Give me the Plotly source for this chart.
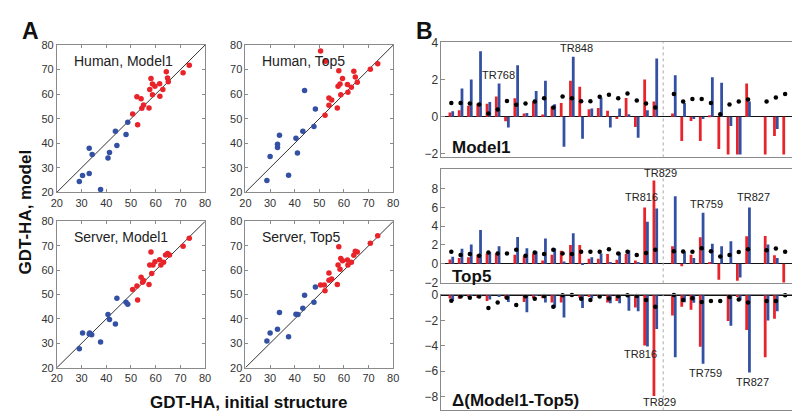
import plotly.graph_objects as go

# ---------------- Panel A data (GDT-HA) ----------------
hm1_blue_x = [29.1, 30.4, 33.1, 33.1, 34.3, 37.7, 40.7, 41.3, 43.7, 44.3, 48.0, 48.7]
hm1_blue_y = [24.4, 26.8, 27.7, 38.0, 35.4, 21.1, 34.0, 36.2, 44.9, 39.1, 43.6, 48.5]
hm1_red_x = [50.7, 52.4, 52.7, 54.1, 54.4, 55.1, 57.3, 57.6, 58.1, 58.7, 58.7, 59.7, 61.6, 61.7, 62.9, 64.3, 64.8, 65.1, 71.1, 73.6]
hm1_red_y = [51.9, 58.9, 47.5, 58.1, 54.2, 55.6, 54.4, 61.9, 66.4, 64.1, 59.7, 63.2, 64.2, 59.1, 61.9, 69.1, 66.6, 65.0, 68.7, 71.8]

ht5_blue_x = [28.7, 30.0, 33.0, 33.0, 33.8, 37.5, 40.5, 41.1, 43.3, 44.0, 47.8, 48.4]
ht5_blue_y = [24.8, 34.6, 39.6, 38.3, 43.2, 27.0, 42.0, 36.0, 44.9, 61.5, 46.8, 53.9]
ht5_red_x = [50.5, 52.3, 52.5, 53.9, 53.9, 55.0, 57.3, 57.6, 57.9, 58.4, 58.7, 59.4, 61.4, 61.6, 63.0, 64.0, 64.6, 65.4, 70.7, 73.7]
ht5_red_y = [77.6, 51.4, 73.4, 58.4, 55.5, 57.6, 54.4, 63.2, 69.5, 64.1, 59.7, 66.4, 63.9, 60.8, 62.8, 69.3, 67.0, 64.8, 70.1, 72.4]

sm1_blue_x = [29.1, 30.4, 33.1, 33.3, 34.1, 37.7, 40.7, 41.3, 43.7, 44.3, 48.0, 48.7]
sm1_blue_y = [27.8, 34.2, 33.8, 34.2, 33.5, 30.5, 41.8, 39.8, 37.9, 48.5, 46.8, 46.0]
sm1_red_x = [50.7, 52.4, 52.7, 54.1, 54.7, 55.1, 57.3, 57.6, 58.1, 58.4, 58.9, 59.7, 61.6, 62.1, 63.2, 64.0, 64.8, 65.6, 71.1, 73.6]
sm1_red_y = [52.1, 53.5, 47.8, 57.1, 55.0, 55.8, 54.1, 62.1, 67.4, 58.6, 62.1, 63.4, 64.3, 62.1, 63.2, 66.2, 66.8, 66.2, 69.8, 73.1]

st5_blue_x = [28.7, 30.0, 33.0, 33.8, 37.5, 40.5, 41.3, 43.3, 44.0, 47.8, 48.4]
st5_blue_y = [30.9, 34.2, 35.8, 42.6, 32.7, 41.9, 41.8, 44.4, 49.7, 46.8, 53.1]
st5_red_x = [50.5, 52.0, 52.3, 53.9, 53.9, 55.0, 57.3, 57.6, 57.9, 58.4, 58.7, 59.4, 61.4, 61.6, 63.0, 64.0, 64.6, 65.4, 70.7, 73.7]
st5_red_y = [53.9, 53.9, 51.5, 58.8, 55.9, 56.4, 54.1, 62.1, 69.6, 60.4, 64.8, 63.9, 64.2, 62.1, 63.2, 66.1, 67.8, 67.4, 71.0, 74.1]

a_ticks = [20, 30, 40, 50, 60, 70, 80]
a_titles = ["Human, Model1", "Human, Top5", "Server, Model1", "Server, Top5"]

# ---------------- Panel B data ----------------
slots = list(range(37))
N = None
m1_red = [0.23, 0.35, 0.6, 0.72, 0.7, 1.1, -0.25, 1.0, 0.18, 0.82, 0.12, 0.56, 0.75, 1.95, 1.63, 0.4, 0.47, 0.33, -0.12, 1.02, -0.56, 2.02, 0.82, N,
          0.18, -1.32, -0.23, -1.32, 0.07, -1.75, -2.05, -2.05, 1.8, N, -2.05, -1.05, -2.05]
m1_blue = [0.3, 1.53, 2.02, 3.56, 0.8, 1.8, -0.58, 2.8, 0.2, 1.4, 1.95, 0.68, -1.63, 3.25, -1.2, 0.44, 1.05, -0.58, 0.44, 0.14, -1.14, 0.35, 3.16, N,
           2.25, 0.75, -0.12, -0.12, 2.14, 1.84, -0.5, -2.05, 0.82, N, 0.0, -0.67, 0.0]
m1_dot = [0.75, 0.75, 0.72, 0.67, 0.18, 0.39, 0.86, 0.65, 0.72, 0.82, 1.0, 0.5, 1.1, 1.0, 0.84, 0.84, 1.09, 1.19, 1.0, 1.26, 0.88, 0.72, 0.5, N,
          1.23, 0.82, 0.96, 0.96, 0.75, 0.14, 0.67, 0.82, 0.93, N, 0.82, 1.04, 1.23]

t5_red = [0.45, 0.62, 0.69, 0.96, 1.1, 1.1, 0.0, 0.96, 0.8, 1.1, 0.34, 0.96, 1.37, 2.0, 2.0, 0.52, 0.52, 1.03, 0.41, 1.03, 0.34, 6.0, 8.87, N,
          1.86, -0.27, 0.96, 2.82, 0.07, -1.72, 0.0, -1.82, 2.92, N, 2.96, 0.9, -2.0]
t5_blue = [0.75, 1.6, 2.06, 3.6, 1.2, 1.86, 0.0, 2.85, 1.65, 1.3, 2.68, 1.65, 0.24, 3.26, -0.1, 0.69, 1.1, 0.17, 1.2, 1.44, 0.14, 4.47, 5.9, N,
           7.2, 1.3, 0.62, 5.43, 2.13, 1.86, 2.4, -1.48, 6.0, N, 2.06, 0.62, 0.0]
t5_dot = [1.27, 0.93, 1.03, 0.86, 1.2, 1.1, 1.1, 1.5, 0.86, 1.2, 1.03, 1.5, 1.1, 1.03, 1.27, 1.27, 1.27, 1.55, 1.1, 1.27, 0.93, 1.13, 1.5, N,
          1.34, 1.3, 1.27, 1.65, 1.34, 0.76, 0.93, 1.24, 1.55, N, 1.44, 1.62, 1.27]

d_red = [-0.25, -0.27, -0.09, -0.21, -0.46, 0.0, -0.25, 0.0, -0.53, -0.23, -0.23, -0.58, -0.58, 0.0, -0.2, -0.12, -0.05, -0.58, -0.46, 0.0, -0.96, -3.96, -7.95, N,
         -1.6, -0.9, -1.14, -4.06, 0.0, 0.0, -2.03, -0.13, -2.74, N, -4.9, -1.85, 0.0]
d_blue = [-0.45, -0.07, -0.04, -0.04, -0.33, -0.06, -0.53, 0.0, -1.35, -0.05, -0.58, -0.96, -1.75, 0.0, -1.0, -0.25, -0.05, -0.63, -0.63, -1.22, -1.27, -4.05, -2.67, N,
          -4.9, -0.55, -0.6, -5.4, 0.0, 0.0, -2.4, -0.4, -6.1, N, -2.0, -1.27, 0.0]
d_dot = [-0.43, -0.1, -0.2, -0.1, -1.0, -0.58, -0.2, -0.76, -0.08, -0.28, -0.05, -0.9, 0.0, 0.02, -0.28, -0.38, -0.1, -0.25, -0.08, 0.0, -0.05, -0.38, -0.9, N,
         0.02, -0.38, -0.23, -0.53, -0.46, -0.46, -0.13, -0.33, -0.58, N, -0.46, -0.46, 0.0]

b_labels = ["Model1", "Top5", "Δ(Model1-Top5)"]
b_ticks = [[-2, 0, 2, 4], [-2, 0, 2, 4, 6, 8], [-8, -6, -4, -2, 0]]
b_ranges = [[-2.21, 4.05], [-2.1, 10.1], [-9.08, 0.02]]
divider_slot = 22.85

# annotations: (panel index, label, slot, value, xshift, yshift, anchor)
tr_labels = [
    (0, "TR768", 5, 1.8, 1, 1, "bottom"),
    (0, "TR848", 13, 3.25, 5, 1, "bottom"),
    (1, "TR816", 21, 6.0, -5, 2, "bottom"),
    (1, "TR829", 22, 8.87, 5, 0, "bottom"),
    (1, "TR759", 27, 5.43, 5, 1, "bottom"),
    (1, "TR827", 32, 6.0, 5, 2, "bottom"),
    (2, "TR816", 21, -3.96, -6, 0, "top"),
    (2, "TR829", 22, -7.95, 4, 3, "top"),
    (2, "TR759", 27, -5.4, 4, 0, "top"),
    (2, "TR827", 32, -6.1, 4, 0, "top"),
]

RED = "#e8242a"
BLUE = "#3350a3"
FONT = "Liberation Sans, Arial, Helvetica, sans-serif"
FRAME = "#8a8a8a"

W, H = 800, 418
def px_x(a, b):
    return [a / W, b / W]
def px_y(top, bottom):
    return [1 - bottom / H, 1 - top / H]

fig = go.Figure()

a_domains = [
    (px_x(43.5, 194), px_y(31, 183)),
    (px_x(235, 385), px_y(31, 183)),
    (px_x(43.5, 194), px_y(213, 364)),
    (px_x(235, 385), px_y(213, 364)),
]
a_data = [
    (hm1_blue_x, hm1_blue_y, hm1_red_x, hm1_red_y),
    (ht5_blue_x, ht5_blue_y, ht5_red_x, ht5_red_y),
    (sm1_blue_x, sm1_blue_y, sm1_red_x, sm1_red_y),
    (st5_blue_x, st5_blue_y, st5_red_x, st5_red_y),
]

layout = dict(
    width=W, height=H, margin=dict(l=0, r=0, t=0, b=0),
    paper_bgcolor="white", plot_bgcolor="white",
    showlegend=False, barmode="overlay",
    font=dict(family=FONT, color="#222"),
)
annotations = []
shapes = []

for i, ((dx, dy), (bx, by, rx, ry)) in enumerate(zip(a_domains, a_data)):
    n = i + 1
    xa = "x" if n == 1 else f"x{n}"
    ya = "y" if n == 1 else f"y{n}"
    fig.add_trace(go.Scatter(x=bx, y=by, mode="markers", xaxis=xa, yaxis=ya,
                             marker=dict(color=BLUE, size=5.5), cliponaxis=False))
    fig.add_trace(go.Scatter(x=rx, y=ry, mode="markers", xaxis=xa, yaxis=ya,
                             marker=dict(color=RED, size=5.5), cliponaxis=False))
    axcommon = dict(range=[20, 80], tickvals=a_ticks, showline=True, mirror="ticks",
                    linecolor=FRAME, linewidth=1, ticks="inside", ticklen=3,
                    tickcolor=FRAME, showgrid=False, zeroline=False,
                    tickfont=dict(size=11, color="#333", family=FONT))
    layout[f"xaxis{n if n > 1 else ''}"] = dict(axcommon, domain=dx, anchor=ya)
    layout[f"yaxis{n if n > 1 else ''}"] = dict(axcommon, domain=dy, anchor=xa)
    shapes.append(dict(type="line", xref=xa, yref=ya, x0=20, y0=20, x1=80, y1=80,
                       line=dict(color="#333", width=1), layer="below"))
    annotations.append(dict(text=a_titles[i], xref=f"{xa} domain", yref=f"{ya} domain",
                            x=0.1, y=1, xshift=0, yshift=-16, xanchor="left", yanchor="middle",
                            showarrow=False, font=dict(size=14, color="#222", family=FONT)))

b_domains = [px_y(28, 147), px_y(159, 277), px_y(289, 408)]
b_xdom = px_x(434, 797)
b_data = [(m1_red, m1_blue, m1_dot), (t5_red, t5_blue, t5_dot), (d_red, d_blue, d_dot)]
label_pos = [137, 270, 398]

for j, (dy, (r, b, d)) in enumerate(zip(b_domains, b_data)):
    n = j + 5
    xa, ya = f"x{n}", f"y{n}"
    fig.add_trace(go.Bar(x=slots, y=r, xaxis=xa, yaxis=ya, marker=dict(color=RED, line=dict(width=0)),
                         width=0.3, offset=-0.3))
    fig.add_trace(go.Bar(x=slots, y=b, xaxis=xa, yaxis=ya, marker=dict(color=BLUE, line=dict(width=0)),
                         width=0.3, offset=0.0))
    fig.add_trace(go.Scatter(x=slots, y=d, xaxis=xa, yaxis=ya, mode="markers",
                             marker=dict(color="black", size=4.5), cliponaxis=False))
    layout[f"xaxis{n}"] = dict(domain=b_xdom, anchor=ya, range=[-1.06, 37.5], showticklabels=False,
                               ticks="", showline=True, mirror=True, linecolor=FRAME, linewidth=1,
                               showgrid=False, zeroline=False)
    layout[f"yaxis{n}"] = dict(domain=dy, anchor=xa, range=b_ranges[j], tickvals=b_ticks[j],
                               showline=True, mirror="ticks", linecolor=FRAME, linewidth=1,
                               ticks="inside", ticklen=4, tickcolor=FRAME, showgrid=False,
                               zeroline=True, zerolinecolor="#111", zerolinewidth=1,
                               tickfont=dict(size=12, color="#333", family=FONT))
    shapes.append(dict(type="line", xref=xa, yref=f"{ya} domain", x0=divider_slot, x1=divider_slot,
                       y0=0, y1=1, line=dict(color="#aaaaaa", width=1, dash="dot")))
    annotations.append(dict(text=f"<b>{b_labels[j]}</b>", xref="paper", yref="paper",
                            x=443 / W, y=1 - label_pos[j] / H, xanchor="left", yanchor="middle",
                            showarrow=False, font=dict(size=17, color="#111", family=FONT)))

for (p, txt, s, v, xs, ys, anc) in tr_labels:
    n = p + 5
    annotations.append(dict(text=txt, xref=f"x{n}", yref=f"y{n}", x=s, y=v, xshift=xs,
                            yshift=ys if anc == "bottom" else ys - 1, xanchor="center", yanchor=anc,
                            showarrow=False, font=dict(size=11, color="#222", family=FONT)))

# panel letters and axis titles
annotations += [
    dict(text="<b>A</b>", xref="paper", yref="paper", x=6 / W, y=1 - 1 / H, xanchor="left", yanchor="top",
         showarrow=False, font=dict(size=23, color="#111", family=FONT)),
    dict(text="<b>B</b>", xref="paper", yref="paper", x=406 / W, y=1 - 1 / H, xanchor="left", yanchor="top",
         showarrow=False, font=dict(size=23, color="#111", family=FONT)),
    dict(text="<b>GDT-HA, model</b>", xref="paper", yref="paper", x=12 / W, y=1 - 203 / H,
         xanchor="center", yanchor="middle", textangle=-90, showarrow=False,
         font=dict(size=17, color="#111", family=FONT)),
    dict(text="<b>GDT-HA, initial structure</b>", xref="paper", yref="paper", x=238 / W, y=1 - 400 / H,
         xanchor="center", yanchor="middle", showarrow=False,
         font=dict(size=17, color="#111", family=FONT)),
]

layout["annotations"] = annotations
layout["shapes"] = shapes
fig.update_layout(**layout)
fig.write_html("out.html")
